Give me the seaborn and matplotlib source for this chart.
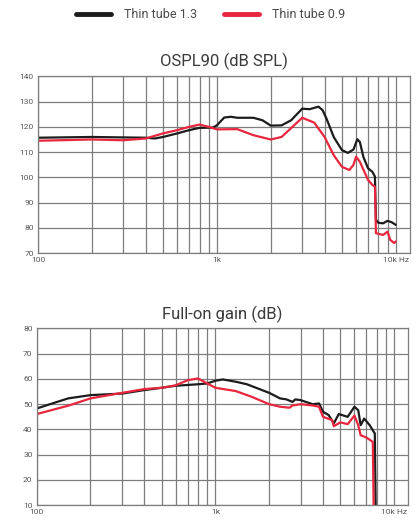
import numpy as np
import pandas as pd
import matplotlib
matplotlib.use('Agg')
import matplotlib.pyplot as plt
import seaborn as sns

# OSPL90 (dB SPL)
ospl_13_freq = [100, 200, 400, 450, 500, 600, 700, 800, 950, 1000, 1100, 1200, 1300, 1600, 1800,
                2000, 2300, 2600, 3000, 3300, 3700, 3900, 4100, 4500, 5000, 5400, 5800, 6100, 6300,
                6600, 7000, 7400, 7650, 7750, 8000, 8500, 9000, 9500, 10000]
ospl_13_val = [115.7, 116.0, 115.7, 115.4, 116.0, 117.4, 118.7, 119.6, 119.7, 120.6, 123.7, 124.0, 123.6,
               123.6, 122.6, 120.5, 120.6, 122.6, 127.2, 127.0, 128.0, 126.6, 123.3, 116.0, 110.8, 109.7,
               111.0, 115.1, 114.0, 108.0, 103.6, 102.2, 100.3, 83.2, 82.0, 81.8, 82.8, 82.2, 81.2]

ospl_09_freq = [100, 200, 300, 400, 500, 600, 700, 800, 900, 1000, 1300, 1600, 2000, 2300, 3000,
                3500, 4000, 4500, 5000, 5500, 5800, 6000, 6300, 7000, 7400, 7650, 7750, 8500, 9000,
                9300, 9800, 10000]
ospl_09_val = [114.5, 115.0, 114.7, 115.4, 117.4, 118.7, 120.0, 120.9, 120.0, 119.0, 119.1, 116.7, 115.0,
               116.0, 123.6, 121.7, 116.0, 108.8, 104.2, 102.9, 104.9, 108.2, 106.2, 99.0, 97.0, 96.3,
               77.9, 77.2, 78.5, 75.3, 74.0, 74.6]

# Full-on gain (dB)
gain_13_freq = [100, 130, 150, 200, 300, 400, 500, 600, 800, 900, 1000, 1100, 1300, 1500, 2000,
                2300, 2500, 2700, 2800, 3000, 3500, 3800, 4000, 4300, 4600, 4900, 5500, 6000, 6300,
                6500, 6800, 7300, 7800, 7900]
gain_13_val = [48.3, 50.9, 52.3, 53.6, 54.2, 55.6, 56.5, 57.3, 57.9, 58.2, 59.3, 59.8, 58.9, 57.9, 54.5,
               52.3, 51.9, 50.9, 51.9, 51.6, 50.0, 50.3, 47.0, 45.7, 42.4, 46.1, 45.0, 49.0, 47.6,
               41.7, 44.3, 41.7, 38.4, 5.0]

gain_09_freq = [100, 150, 200, 300, 400, 500, 600, 700, 800, 900, 1000, 1300, 1600, 2000, 2300,
                2600, 2700, 3000, 3500, 3800, 4000, 4500, 4600, 5000, 5500, 6000, 6300, 6500, 7000,
                7600, 7700]
gain_09_val = [46.1, 49.4, 52.3, 54.5, 56.0, 56.5, 57.5, 59.5, 60.2, 58.2, 56.5, 55.2, 52.9, 50.0, 49.0,
               48.6, 49.5, 50.0, 49.5, 49.0, 45.0, 43.7, 41.3, 42.8, 42.1, 45.5, 41.7, 37.7, 36.8,
               35.1, 5.0]

labels = ['Thin tube 1.3', 'Thin tube 0.9']
colors = ['#1c1c1c', '#e8263d']

sns.set_style('white')
plt.rcParams['font.family'] = ['Roboto', 'DejaVu Sans']

fig = plt.figure(figsize=(4.17, 5.23), dpi=100)
ax1 = fig.add_axes([0.091, 0.516, 0.892, 0.338])
ax2 = fig.add_axes([0.088, 0.034, 0.891, 0.338])

grid_x = [f * m for m in (100, 1000) for f in range(1, 10)] + [10000]


def draw(ax, series, title, ylim):
    for (fr, val), lab, col in zip(series, labels, colors):
        df = pd.DataFrame({'freq': fr, 'val': val})
        sns.lineplot(data=df, x='freq', y='val', ax=ax, color=col, lw=1.6, label=lab, legend=False)
    ax.set_xscale('log')
    ax.set_xlim(100, 12000)
    ax.set_ylim(*ylim)
    ax.set_xlabel('')
    ax.set_ylabel('')
    ax.set_xticks([100, 1000, 10000])
    ax.set_xticklabels(['100', '1k', '10k Hz'])
    ax.xaxis.set_minor_locator(matplotlib.ticker.NullLocator())
    ax.set_yticks(np.arange(ylim[0], ylim[1] + 1, 10))
    ax.tick_params(length=0, labelsize=6, labelcolor='#555555', pad=3)
    for gx in grid_x:
        ax.axvline(gx, color='#7d7d7d', lw=0.9, zorder=0)
    ax.yaxis.grid(True, color='#7d7d7d', lw=0.9)
    ax.set_axisbelow(True)
    for s in ax.spines.values():
        s.set_color('#7d7d7d')
        s.set_linewidth(0.9)
    ax.set_title(title, fontsize=12, color='#3a3a3a', pad=7, fontweight='normal')


draw(ax1, [(ospl_13_freq, ospl_13_val), (ospl_09_freq, ospl_09_val)], 'OSPL90 (dB SPL)', (70, 140))
draw(ax2, [(gain_13_freq, gain_13_val), (gain_09_freq, gain_09_val)], 'Full-on gain (dB)', (10, 80))

handles, labs = ax1.get_legend_handles_labels()
leg = fig.legend(handles, labs, loc='center', bbox_to_anchor=(0.505, 0.972), ncol=2, frameon=False,
                 fontsize=9, handlelength=2.8, columnspacing=2.2, handletextpad=1.0)
for h in leg.get_lines():
    h.set_linewidth(3.5)
for t in leg.get_texts():
    t.set_color('#4a4a4a')

fig.savefig('out.png', dpi=100)
